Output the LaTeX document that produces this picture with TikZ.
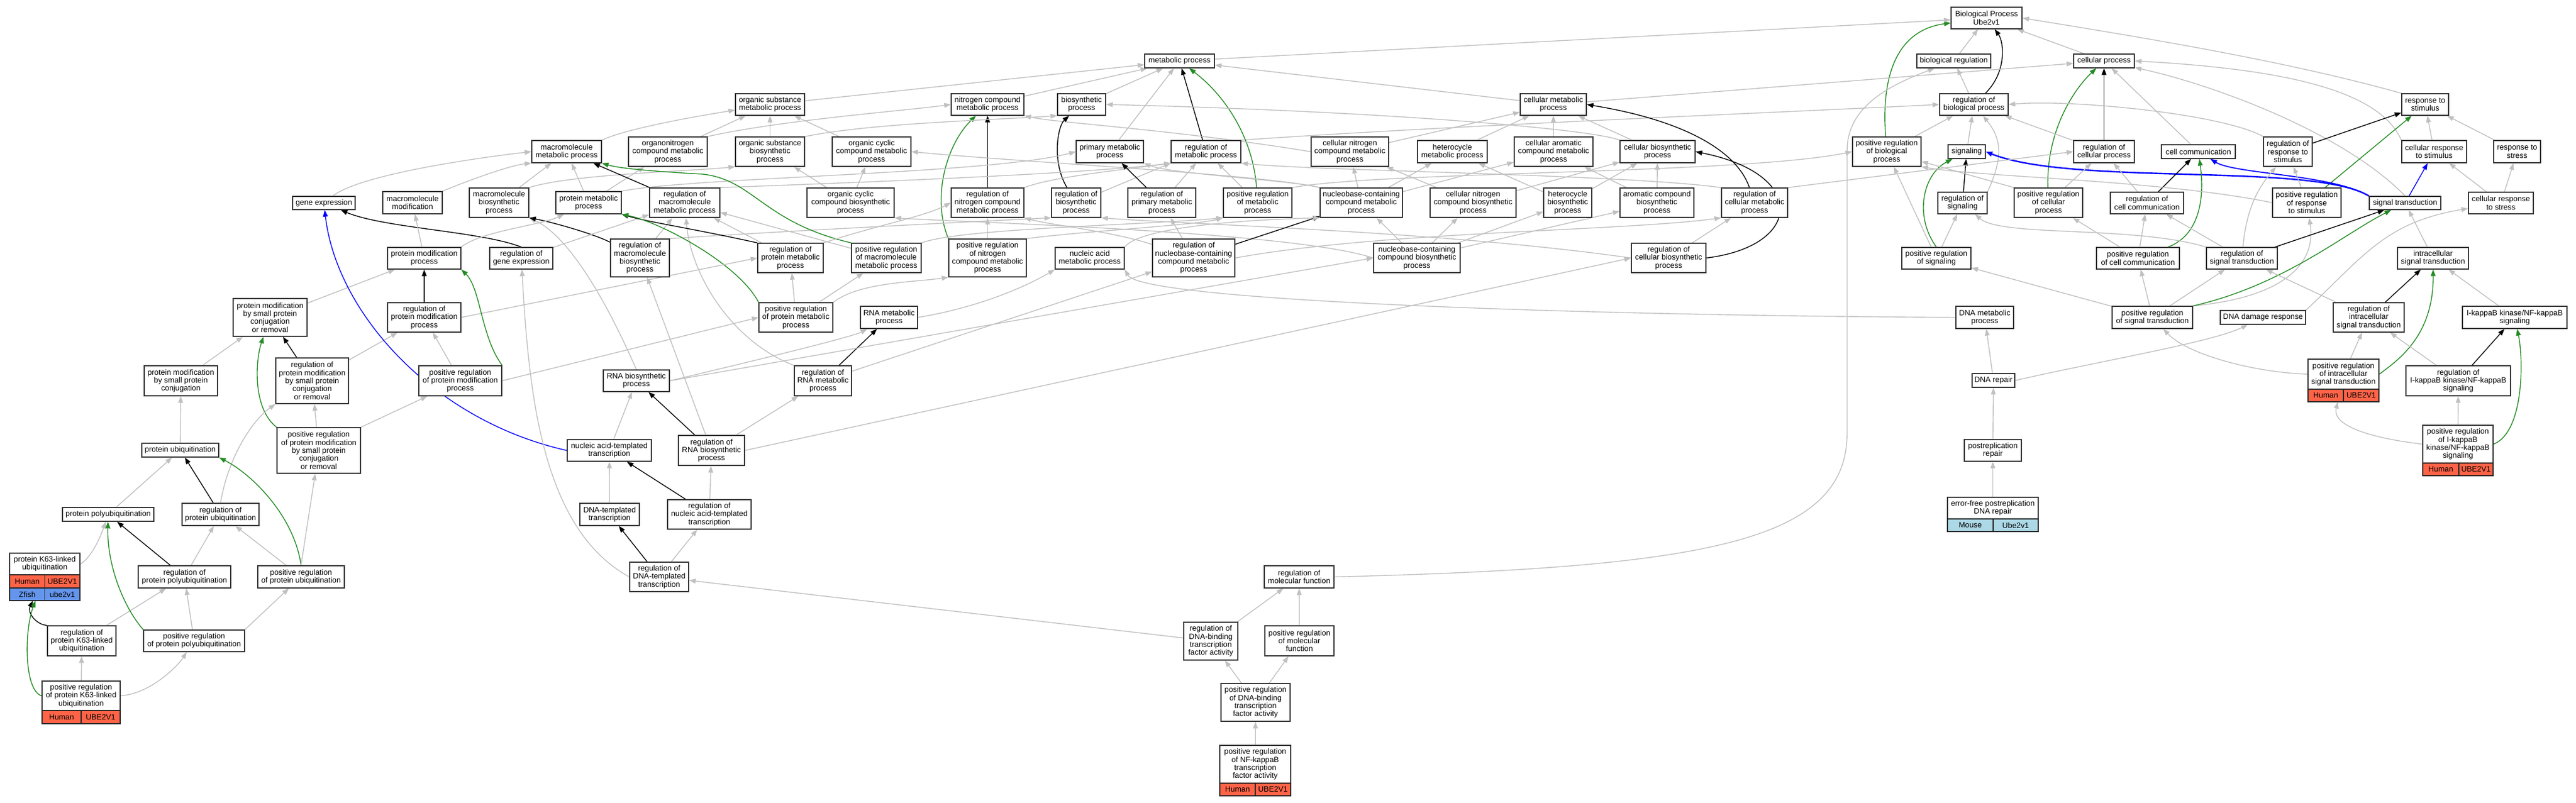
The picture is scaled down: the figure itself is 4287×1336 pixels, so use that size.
\documentclass[tikz,border=0pt]{standalone}
\usepackage{fontspec}
\setmainfont{Liberation Sans}
\usetikzlibrary{arrows.meta}
\pgfdeclarelayer{bg}
\pgfdeclarelayer{edges}
\pgfsetlayers{bg,edges,main}
\definecolor{isagray}{HTML}{C0C0C0}
\definecolor{posgreen}{HTML}{228B22}
\definecolor{humanred}{HTML}{FF6347}
\definecolor{zfishblue}{HTML}{6495ED}
\definecolor{mouseblue}{HTML}{ADD8E6}
\newcommand\gofont{\fontsize{12.8}{13.3}\selectfont}
\tikzset{
  gobox/.style={draw=black!80, line width=1.4pt, fill=white, align=center, inner sep=0pt, font=\gofont},
  cellbox/.style={draw=black!85, line width=1.2pt, inner sep=0pt, font=\gofont},
  tipA/.style={-{Triangle[length=11pt,width=8pt]}},
  isa/.style={draw=isagray, line width=1.4pt, tipA},
  regl/.style={draw=black, line width=1.4pt, tipA},
  posl/.style={draw=posgreen, line width=1.4pt, tipA},
  partl/.style={draw=blue, line width=1.4pt, tipA},
}
\newcommand\gonode[6]{\node[gobox, minimum width={#3-#2}, minimum height={#5-#4}] (#1) at ({(#2+#3)/2},{(#4+#5)/2}) {#6};}
\newcommand\gorow[9]{%
  \node[cellbox, fill=#7, minimum width={#3-#2}, minimum height={#6-#5}] (#1a) at ({(#2+#3)/2},{(#5+#6)/2}) {#8};
  \node[cellbox, fill=#7, minimum width={#4-#3}, minimum height={#6-#5}] (#1b) at ({(#3+#4)/2},{(#5+#6)/2}) {#9};}
\begin{document}
\begin{tikzpicture}[x=1pt,y=-1pt]
\useasboundingbox (0,0) rectangle (4287,1336);
\begin{pgfonlayer}{bg}
\fill[white] (0,0) rectangle (4287,1336);
\end{pgfonlayer}
% ---------- nodes ----------
\gonode{BP}{3247}{3365}{12}{48}{Biological Process\\Ube2v1}
\gonode{biolreg}{3190}{3313}{90}{113}{biological regulation}
\gonode{cellproc}{3451}{3552}{90}{113}{cellular process}
\gonode{metab}{1905}{2021}{90}{113}{metabolic process}
\gonode{orgsubmet}{1224}{1339}{156}{192}{organic substance\\metabolic process}
\gonode{nitmet}{1583}{1704}{156}{192}{nitrogen compound\\metabolic process}
\gonode{biosyn}{1760}{1840}{156}{192}{biosynthetic\\process}
\gonode{cellmet}{2530}{2640}{156}{192}{cellular metabolic\\process}
\gonode{regbio}{3228}{3342}{156}{192}{regulation of\\biological process}
\gonode{respstim}{3997}{4075}{156}{192}{response to\\stimulus}
\gonode{macromet}{885}{1001}{234}{271}{macromolecule\\metabolic process}
\gonode{orgnitmet}{1046}{1177}{228}{277}{organonitrogen\\compound metabolic\\process}
\gonode{orgsubbio}{1224}{1339}{228}{277}{organic substance\\biosynthetic\\process}
\gonode{orgcycmet}{1385}{1516}{228}{277}{organic cyclic\\compound metabolic\\process}
\gonode{primmet}{1791}{1903}{234}{271}{primary metabolic\\process}
\gonode{regmet}{1949}{2065}{234}{271}{regulation of\\metabolic process}
\gonode{cellnitmet}{2182}{2311}{228}{277}{cellular nitrogen\\compound metabolic\\process}
\gonode{hetmet}{2359}{2475}{234}{271}{heterocycle\\metabolic process}
\gonode{cellaromet}{2520}{2651}{228}{277}{cellular aromatic\\compound metabolic\\process}
\gonode{cellbio}{2696}{2821}{234}{271}{cellular biosynthetic\\process}
\gonode{posregbio}{3083}{3197}{228}{277}{positive regulation\\of biological\\process}
\gonode{signaling}{3242}{3304}{241}{264}{signaling}
\gonode{regcell}{3451}{3552}{234}{271}{regulation of\\cellular process}
\gonode{cellcomm}{3597}{3720}{241}{264}{cell communication}
\gonode{regresp}{3767}{3848}{228}{277}{regulation of\\response to\\stimulus}
\gonode{cellresp}{3997}{4105}{234}{271}{cellular response\\to stimulus}
\gonode{respstress}{4150}{4228}{234}{271}{response to\\stress}
\gonode{geneexp}{487}{591}{327}{349}{gene expression}
\gonode{macromod}{637}{736}{319}{356}{macromolecule\\modification}
\gonode{macrobio}{781}{880}{313}{362}{macromolecule\\biosynthetic\\process}
\gonode{protmet}{925}{1034}{319}{356}{protein metabolic\\process}
\gonode{regmacromet}{1081}{1198}{313}{362}{regulation of\\macromolecule\\metabolic process}
\gonode{orgcycbio}{1343}{1488}{313}{362}{organic cyclic\\compound biosynthetic\\process}
\gonode{regnitmet}{1583}{1704}{313}{362}{regulation of\\nitrogen compound\\metabolic process}
\gonode{regbiosyn}{1750}{1832}{313}{362}{regulation of\\biosynthetic\\process}
\gonode{regprimmet}{1877}{1990}{313}{362}{regulation of\\primary metabolic\\process}
\gonode{posregmet}{2036}{2150}{313}{362}{positive regulation\\of metabolic\\process}
\gonode{nucmet}{2197}{2334}{313}{362}{nucleobase-containing\\compound metabolic\\process}
\gonode{cellnitbio}{2380}{2523}{313}{362}{cellular nitrogen\\compound biosynthetic\\process}
\gonode{hetbio}{2569}{2649}{313}{362}{heterocycle\\biosynthetic\\process}
\gonode{arobio}{2696}{2819}{313}{362}{aromatic compound\\biosynthetic\\process}
\gonode{regcellmet}{2865}{2975}{313}{362}{regulation of\\cellular metabolic\\process}
\gonode{regsig}{3225}{3307}{320}{356}{regulation of\\signaling}
\gonode{posregcell}{3352}{3466}{313}{362}{positive regulation\\of cellular\\process}
\gonode{regcomm}{3512}{3634}{320}{356}{regulation of\\cell communication}
\gonode{posregresp}{3782}{3896}{313}{362}{positive regulation\\of response\\to stimulus}
\gonode{sigtrans}{3943}{4062}{327}{349}{signal transduction}
\gonode{cellstress}{4108}{4216}{320}{356}{cellular response\\to stress}
\gonode{protmod}{645}{767}{412}{448}{protein modification\\process}
\gonode{reggene}{815}{920}{412}{448}{regulation of\\gene expression}
\gonode{regmacrobio}{1016}{1114}{398}{461}{regulation of\\macromolecule\\biosynthetic\\process}
\gonode{regprotmet}{1261}{1370}{405}{454}{regulation of\\protein metabolic\\process}
\gonode{posregmacromet}{1417}{1533}{405}{454}{positive regulation\\of macromolecule\\metabolic process}
\gonode{posregnitmet}{1579}{1708}{398}{461}{positive regulation\\of nitrogen\\compound metabolic\\process}
\gonode{nucacidmet}{1756}{1871}{412}{448}{nucleic acid\\metabolic process}
\gonode{regnucmet}{1918}{2055}{398}{461}{regulation of\\nucleobase-containing\\compound metabolic\\process}
\gonode{nucbio}{2286}{2430}{405}{454}{nucleobase-containing\\compound biosynthetic\\process}
\gonode{regcellbio}{2715}{2839}{405}{454}{regulation of\\cellular biosynthetic\\process}
\gonode{posregsig}{3165}{3280}{412}{448}{positive regulation\\of signaling}
\gonode{posregcomm}{3489}{3627}{412}{448}{positive regulation\\of cell communication}
\gonode{regsigtrans}{3672}{3790}{412}{448}{regulation of\\signal transduction}
\gonode{intrasig}{3990}{4108}{412}{448}{intracellular\\signal transduction}
\gonode{protmodsmall}{388}{511}{497}{560}{protein modification\\by small protein\\conjugation\\or removal}
\gonode{regprotmod}{645}{767}{504}{553}{regulation of\\protein modification\\process}
\gonode{posregprotmet}{1263}{1386}{504}{553}{positive regulation\\of protein metabolic\\process}
\gonode{rnamet}{1432}{1527}{510}{547}{RNA metabolic\\process}
\gonode{dnamet}{3255}{3351}{510}{547}{DNA metabolic\\process}
\gonode{posregsigtrans}{3515}{3649}{510}{547}{positive regulation\\of signal transduction}
\gonode{dnadamage}{3695}{3837}{517}{540}{DNA damage response}
\gonode{regintra}{3883}{4001}{504}{553}{regulation of\\intracellular\\signal transduction}
\gonode{ikk}{4098}{4272}{510}{547}{I-kappaB kinase/NF-kappaB\\signaling}
\gonode{protmodconj}{240}{362}{609}{659}{protein modification\\by small protein\\conjugation}
\gonode{regprotmodsmall}{459}{580}{596}{672}{regulation of\\protein modification\\by small protein\\conjugation\\or removal}
\gonode{posregprotmod}{697}{835}{609}{659}{positive regulation\\of protein modification\\process}
\gonode{rnabio}{1004}{1114}{616}{652}{RNA biosynthetic\\process}
\gonode{regrnamet}{1322}{1417}{609}{659}{regulation of\\RNA metabolic\\process}
\gonode{dnarepair}{3282}{3353}{622}{645}{DNA repair}
\gonode{posregintra}{3841}{3959}{598}{648}{positive regulation\\of intracellular\\signal transduction}
\gorow{posregintrah}{3841}{3900}{3959}{648}{669}{humanred}{Human}{UBE2V1}
\node[inner sep=0pt, minimum width=118, minimum height=71] (posregintraall) at (3900,633.5) {};
\gonode{regikk}{4004}{4178}{609}{659}{regulation of\\I-kappaB kinase/NF-kappaB\\signaling}
\gonode{protubi}{236}{364}{738}{761}{protein ubiquitination}
\gonode{posregprotmodsmall}{461}{600}{712}{788}{positive regulation\\of protein modification\\by small protein\\conjugation\\or removal}
\gonode{nuctrans}{944}{1084}{732}{768}{nucleic acid-templated\\transcription}
\gonode{regrnabio}{1129}{1239}{725}{775}{regulation of\\RNA biosynthetic\\process}
\gonode{postrep}{3269}{3364}{732}{768}{postreplication\\repair}
\gonode{posregikk}{4032}{4149}{708}{771}{positive regulation\\of I-kappaB\\kinase/NF-kappaB\\signaling}
\gorow{posregikkh}{4032}{4092}{4149}{771}{792}{humanred}{Human}{UBE2V1}
\gonode{polyubi}{104}{256}{845}{868}{protein polyubiquitination}
\gonode{regprotubi}{303}{431}{838}{875}{regulation of\\protein ubiquitination}
\gonode{dnatrans}{965}{1064}{838}{875}{DNA-templated\\transcription}
\gonode{regnuctrans}{1111}{1250}{832}{881}{regulation of\\nucleic acid-templated\\transcription}
\gonode{errfree}{3241}{3392}{828}{864}{error-free postreplication\\DNA repair}
\gorow{errfreem}{3241}{3317}{3392}{864}{885}{mouseblue}{Mouse}{Ube2v1}
\gonode{k63}{16}{133}{921}{957}{protein K63-linked\\ubiquitination}
\gorow{k63h}{16}{74.5}{133}{957}{979}{humanred}{Human}{UBE2V1}
\gorow{k63z}{16}{74.5}{133}{979}{1000}{zfishblue}{Zfish}{ube2v1}
\node[inner sep=0pt, minimum width=117, minimum height=79] (k63all) at (74.5,960.5) {};
\gonode{regpolyubi}{230}{384}{942}{979}{regulation of\\protein polyubiquitination}
\gonode{posregprotubi}{429}{573}{942}{979}{positive regulation\\of protein ubiquitination}
\gonode{regdnatrans}{1048}{1146}{936}{985}{regulation of\\DNA-templated\\transcription}
\gonode{regmolfunc}{2104}{2220}{942}{979}{regulation of\\molecular function}
\gonode{regk63}{79}{193}{1042}{1092}{regulation of\\protein K63-linked\\ubiquitination}
\gonode{posregpolyubi}{239}{407}{1049}{1085}{positive regulation\\of protein polyubiquitination}
\gonode{regdnabind}{1970}{2060}{1036}{1099}{regulation of\\DNA-binding\\transcription\\factor activity}
\gonode{posregmolfunc}{2105}{2220}{1042}{1092}{positive regulation\\of molecular\\function}
\gonode{posregk63}{70}{200}{1134}{1183}{positive regulation\\of protein K63-linked\\ubiquitination}
\gorow{posregk63h}{70}{135}{200}{1183}{1205}{humanred}{Human}{UBE2V1}
\gonode{posregdnabind}{2032}{2147}{1138}{1201}{positive regulation\\of DNA-binding\\transcription\\factor activity}
\gonode{posregnfkb}{2030}{2148}{1241}{1304}{positive regulation\\of NF-kappaB\\transcription\\factor activity}
\gorow{posregnfkbh}{2030}{2089}{2148}{1304}{1325}{humanred}{Human}{UBE2V1}
% ---------- edges ----------
\begin{pgfonlayer}{edges}
% top right
\draw[isa] (biolreg) -- (BP);
\draw[isa] (cellproc) -- (BP);
\draw[isa] (respstim.north west) .. controls (3800,100) and (3550,60) .. (BP.east);
\draw[regl] (regbio) .. controls (3340,120) and (3335,70) .. (BP);
\draw[posl] (posregbio) .. controls (3130,120) and (3160,50) .. (BP);
\draw[isa] (metab) -- (BP);
\draw[isa] (regbio) -- (biolreg);
\draw[isa] (regmolfunc.east) .. controls (2850,945) and (3074,900) .. (3074,720) -- (3074,250) .. controls (3074,175) and (3150,140) .. (biolreg);
\draw[isa] (cellmet) -- (cellproc);
\draw[regl] (regcell) -- (cellproc);
\draw[posl] (posregcell) .. controls (3405,220) and (3450,150) .. (cellproc);
\draw[isa] (cellcomm) -- (cellproc);
\draw[isa] (cellresp.north west) .. controls (3960,150) and (3800,115) .. (cellproc.east);
\draw[isa] (sigtrans.north) .. controls (3900,220) and (3680,140) .. (cellproc);
\draw[isa] (posregbio) -- (regbio);
\draw[isa] (signaling) -- (regbio);
\draw[isa] (regsig.north east) .. controls (3335,260) and (3330,230) .. (regbio);
\draw[isa] (regcell) -- (regbio);
\draw[isa] (regresp.north west) .. controls (3700,190) and (3450,165) .. (regbio.east);
\draw[isa] (regmet.north east) .. controls (2400,210) and (2900,190) .. (regbio.west);
\draw[regl] (regresp) -- (respstim);
\draw[posl] (posregresp) -- (respstim);
\draw[isa] (cellresp) -- (respstim);
\draw[isa] (respstress) -- (respstim);
\draw[partl, line width=2.4pt] (sigtrans.north west) .. controls (3850,270) and (3450,310) .. (signaling.east);
\draw[partl, line width=1.8pt] (sigtrans.north west) .. controls (3880,290) and (3720,290) .. (cellcomm);
\draw[partl] (sigtrans) -- (cellresp);
\draw[regl] (regsig) -- (signaling);
\draw[posl] (posregsig.north) .. controls (3185,360) and (3200,290) .. (signaling);
\draw[isa] (regcellmet.north east) -- (regcell.west);
\draw[isa] (posregcell) -- (regcell);
\draw[isa] (regcomm) -- (regcell);
\draw[regl] (regcomm) -- (cellcomm);
\draw[posl] (posregcomm) .. controls (3665,390) and (3668,320) .. (cellcomm);
\draw[isa] (regsigtrans) .. controls (3740,330) and (3770,300) .. (regresp);
\draw[isa] (posregresp) -- (regresp);
\draw[isa] (cellstress) -- (cellresp);
\draw[isa] (cellstress) -- (respstress);
\draw[isa] (posregsig) -- (regsig);
\draw[isa] (regsigtrans.north west) .. controls (3550,375) and (3330,395) .. (regsig);
\draw[isa] (posregcomm) -- (posregcell);
\draw[isa] (posregcomm) -- (regcomm);
\draw[isa] (regsigtrans) -- (regcomm);
\draw[isa] (posregsigtrans.north east) .. controls (3800,495) and (3855,440) .. (posregresp);
\draw[regl] (regsigtrans) -- (sigtrans);
\draw[posl] (posregsigtrans.north east) .. controls (3800,475) and (3900,390) .. (sigtrans);
\draw[isa] (intrasig) -- (sigtrans);
\draw[isa] (dnadamage.north east) .. controls (3935,425) and (3970,370) .. (cellstress);
\draw[isa] (posregsigtrans) -- (posregsig);
\draw[isa] (posregsigtrans) -- (posregcomm);
\draw[isa] (posregsigtrans) -- (regsigtrans);
\draw[isa] (regintra) -- (regsigtrans);
\draw[regl] (regintra) -- (intrasig);
\draw[posl] (posregintra.east) .. controls (3990,600) and (4050,560) .. (intrasig);
\draw[isa] (ikk) -- (intrasig);
\draw[isa] (posregintra) -- (regintra);
\draw[isa] (posregintra.west) .. controls (3750,620) and (3640,590) .. (posregsigtrans);
\draw[isa] (regikk) -- (regintra);
\draw[regl] (regikk) -- (ikk);
\draw[posl] (posregikk.east) .. controls (4200,720) and (4200,600) .. (ikk);
\draw[isa] (posregikk) -- (regikk);
\draw[isa] (posregikk.west) .. controls (3950,730) and (3880,710) .. (posregintraall);
\draw[isa] (dnarepair) -- (dnamet);
\draw[isa] (dnarepair.east) .. controls (3500,600) and (3680,570) .. (dnadamage);
\draw[isa] (postrep) -- (dnarepair);
\draw[isa] (errfree) -- (postrep);
\draw[isa] (dnamet.west) .. controls (2600,525) and (1900,500) .. (nucacidmet.south east);
\draw[isa] (posregsig) -- (posregbio);
\draw[isa] (posregcell.north west) -- (posregbio);
\draw[isa] (posregresp.west) .. controls (3600,300) and (3300,295) .. (posregbio.south east);
\draw[isa] (posregmet.north east) .. controls (2300,285) and (2900,290) .. (posregbio.west);
% metabolism
\draw[isa] (orgsubmet) -- (metab);
\draw[isa] (nitmet) -- (metab);
\draw[isa] (biosyn) -- (metab);
\draw[isa] (primmet) -- (metab);
\draw[regl] (regmet) -- (metab);
\draw[posl] (posregmet) .. controls (2085,230) and (2040,160) .. (metab);
\draw[isa] (cellmet) -- (metab);
\draw[isa] (macromet.north east) .. controls (1040,215) and (1150,195) .. (orgsubmet);
\draw[isa] (orgnitmet) -- (orgsubmet);
\draw[isa] (orgsubbio) -- (orgsubmet);
\draw[isa] (orgcycmet) -- (orgsubmet);
\draw[isa] (cellnitmet.west) .. controls (1950,215) and (1760,205) .. (nitmet.south east);
\draw[isa] (orgnitmet.north east) .. controls (1300,200) and (1500,185) .. (nitmet.west);
\draw[regl] (regnitmet) -- (nitmet);
\draw[posl] (posregnitmet.north west) .. controls (1550,330) and (1575,240) .. (nitmet);
\draw[isa] (orgsubbio.north east) .. controls (1450,205) and (1650,200) .. (biosyn.south west);
\draw[regl] (regbiosyn) .. controls (1750,270) and (1760,210) .. (biosyn);
\draw[isa] (cellbio.north west) .. controls (2650,215) and (2300,185) .. (biosyn.east);
\draw[isa] (orgcycbio) -- (orgcycmet);
\draw[isa] (orgcycbio) -- (orgsubbio);
\draw[isa] (macrobio.north east) .. controls (950,290) and (1150,285) .. (orgsubbio.south west);
\draw[isa] (protmet.north east) .. controls (1150,295) and (1650,290) .. (primmet.west);
\draw[isa] (protmet) -- (orgnitmet);
\draw[isa] (nucmet.north west) .. controls (2100,290) and (1700,270) .. (orgcycmet.east);
\draw[isa] (nucmet.north west) .. controls (2150,300) and (1950,290) .. (primmet.south east);
\draw[isa] (regmacromet.north east) .. controls (1400,305) and (1800,290) .. (regmet.south west);
\draw[isa] (regnitmet.north east) .. controls (1750,295) and (1850,285) .. (regmet.south west);
\draw[isa] (regbiosyn) -- (regmet.south west);
\draw[isa] (regprimmet) -- (regmet);
\draw[regl] (regprimmet) -- (primmet);
\draw[isa] (posregmet) -- (regmet);
\draw[isa] (regcellmet.north west) .. controls (2700,290) and (2200,285) .. (regmet.south east);
% cellular cluster
\draw[isa] (cellnitmet) -- (cellmet);
\draw[isa] (hetmet) -- (cellmet);
\draw[isa] (cellaromet) -- (cellmet);
\draw[isa] (cellbio) -- (cellmet);
\draw[regl] (regcellmet) .. controls (2890,250) and (2800,200) .. (cellmet.east);
\draw[isa] (nucmet) -- (hetmet);
\draw[isa] (hetbio) -- (hetmet);
\draw[isa] (nucmet) -- (cellnitmet);
\draw[isa] (cellnitbio) -- (cellnitmet);
\draw[isa] (nucmet) -- (cellaromet);
\draw[isa] (arobio) -- (cellaromet);
\draw[isa] (cellnitbio) -- (cellbio);
\draw[isa] (hetbio) -- (cellbio);
\draw[isa] (arobio) -- (cellbio);
\draw[regl] (regcellbio.east) .. controls (3000,410) and (3010,290) .. (cellbio.east);
\draw[isa] (regcellbio) -- (regcellmet);
\draw[isa] (nucbio) -- (nucmet);
\draw[isa] (nucbio) -- (cellnitbio);
\draw[isa] (nucbio) -- (hetbio);
\draw[isa] (nucbio) -- (arobio);
\draw[isa] (nucbio.west) .. controls (2150,385) and (1600,370) .. (orgcycbio.south east);
\draw[isa] (regcellbio.west) .. controls (2400,385) and (2000,375) .. (regbiosyn.south east);
\draw[isa] (regnucmet.east) .. controls (2300,385) and (2700,385) .. (regcellmet.south west);
\draw[regl] (regnucmet) -- (nucmet);
\draw[isa] (regnucmet) .. controls (1850,385) and (1750,375) .. (regnitmet.south east);
\draw[isa] (regnucmet) -- (regprimmet);
\draw[isa] (nucacidmet.north east) .. controls (1900,375) and (2100,365) .. (nucmet.south west);
\draw[isa] (rnamet.east) .. controls (1640,510) and (1720,470) .. (nucacidmet.south west);
\draw[regl] (regrnamet) -- (rnamet);
\draw[isa] (regrnamet) -- (regnucmet);
\draw[isa] (regrnamet.north west) .. controls (1220,570) and (1150,460) .. (regmacromet);
\draw[isa] (rnabio.east) .. controls (1300,590) and (1420,560) .. (rnamet);
\draw[isa] (rnabio.east) -- (nucbio.west);
\draw[isa] (rnabio.north) .. controls (1000,480) and (940,390) .. (macrobio.south east);
% macromolecule / protein
\draw[regl] (regmacrobio) .. controls (990,390) and (920,370) .. (macrobio.south east);
\draw[isa] (regmacrobio) -- (regmacromet);
\draw[isa] (regmacrobio.north east) .. controls (1300,385) and (1600,370) .. (regbiosyn.south west);
\draw[isa] (reggene) -- (regmacromet);
\draw[regl] (reggene.north) .. controls (800,385) and (640,380) .. (geneexp);
\draw[isa] (protmod) -- (macromod);
\draw[isa] (protmod.north east) .. controls (800,385) and (900,375) .. (protmet);
\draw[isa] (geneexp) .. controls (600,290) and (800,262) .. (macromet.west);
\draw[isa] (macromod.north east) .. controls (780,300) and (850,275) .. (macromet.south west);
\draw[isa] (macrobio) -- (macromet);
\draw[isa] (protmet) -- (macromet);
\draw[regl] (regmacromet) -- (macromet);
\draw[posl] (posregmacromet.north west) .. controls (1270,370) and (1255,300) .. (1170,290) .. controls (1080,285) and (1030,280) .. (macromet.south east);
\draw[regl] (regprotmet.north west) .. controls (1150,380) and (1080,370) .. (protmet.south east);
\draw[isa] (regprotmet) -- (regmacromet);
\draw[isa] (regprotmet.north east) .. controls (1460,375) and (1540,360) .. (regnitmet.west);
\draw[isa] (posregmacromet) -- (regmacromet);
\draw[isa] (posregmacromet.north east) .. controls (1600,380) and (1900,375) .. (posregmet.south west);
\draw[isa] (posregnitmet) -- (regnitmet);
\draw[isa] (posregnitmet.north east) .. controls (1800,385) and (1990,375) .. (posregmet.south west);
\draw[posl] (posregprotmet.north west) .. controls (1230,440) and (1100,370) .. (protmet.south east);
\draw[isa] (posregprotmet) -- (regprotmet);
\draw[isa] (posregprotmet) -- (posregmacromet);
\draw[isa] (posregprotmet.north east) .. controls (1430,470) and (1520,470) .. (posregnitmet.south west);
\draw[isa] (regprotmod.east) -- (regprotmet.west);
\draw[isa] (posregprotmod.east) -- (posregprotmet.west);
\draw[regl] (regprotmod) -- (protmod);
\draw[posl] (posregprotmod.north east) .. controls (800,560) and (800,480) .. (protmod.south east);
\draw[isa] (posregprotmod) -- (regprotmod);
\draw[isa] (protmodsmall) -- (protmod);
\draw[regl] (regprotmodsmall) -- (protmodsmall);
\draw[isa] (regprotmodsmall) -- (regprotmod);
\draw[isa] (protmodconj) -- (protmodsmall);
\draw[posl] (posregprotmodsmall.north west) .. controls (420,680) and (425,600) .. (protmodsmall);
\draw[isa] (posregprotmodsmall) -- (regprotmodsmall);
\draw[isa] (posregprotmodsmall.north east) -- (posregprotmod);
\draw[isa] (protubi) -- (protmodconj);
\draw[regl] (regprotubi) -- (protubi);
\draw[isa] (regprotubi.north) .. controls (380,760) and (420,700) .. (regprotmodsmall.south west);
\draw[posl] (posregprotubi.north) .. controls (490,860) and (420,790) .. (protubi.south east);
\draw[isa] (posregprotubi) -- (regprotubi);
\draw[isa] (posregprotubi.north) -- (posregprotmodsmall);
\draw[isa] (polyubi) -- (protubi);
\draw[isa] (k63.east) .. controls (150,930) and (165,900) .. (polyubi);
\draw[regl] (regpolyubi) -- (polyubi);
\draw[isa] (regpolyubi) -- (regprotubi);
\draw[regl] (regk63.north west) .. controls (60,1040) and (45,1020) .. (k63all);
\draw[isa] (regk63) -- (regpolyubi);
\draw[posl] (posregpolyubi.north west) .. controls (205,1010) and (178,940) .. (polyubi);
\draw[isa] (posregpolyubi) -- (regpolyubi);
\draw[isa] (posregpolyubi.north east) -- (posregprotubi);
\draw[posl] (posregk63.west) .. controls (40,1150) and (40,1050) .. (k63all);
\draw[isa] (posregk63) -- (regk63);
\draw[isa] (posregk63.east) .. controls (250,1155) and (295,1110) .. (posregpolyubi);
% transcription
\draw[partl] (nuctrans.west) .. controls (720,700) and (560,520) .. (geneexp);
\draw[isa] (nuctrans) -- (rnabio);
\draw[isa] (dnatrans) -- (nuctrans);
\draw[regl] (regnuctrans) -- (nuctrans);
\draw[isa] (regnuctrans) -- (regrnabio);
\draw[regl] (regdnatrans) -- (dnatrans);
\draw[isa] (regdnatrans) -- (regnuctrans);
\draw[isa] (regdnatrans.west) .. controls (900,880) and (880,650) .. (reggene);
\draw[regl] (regrnabio) -- (rnabio);
\draw[isa] (regrnabio) -- (regrnamet);
\draw[isa] (regrnabio) -- (regmacrobio);
\draw[isa] (regrnabio.east) -- (regcellbio.west);
\draw[isa] (regdnabind) -- (regdnatrans);
\draw[isa] (regdnabind) -- (regmolfunc);
\draw[isa] (posregmolfunc) -- (regmolfunc);
\draw[isa] (posregdnabind) -- (regdnabind);
\draw[isa] (posregdnabind) -- (posregmolfunc);
\draw[isa] (posregnfkb) -- (posregdnabind);
\end{pgfonlayer}
\end{tikzpicture}
\end{document}
